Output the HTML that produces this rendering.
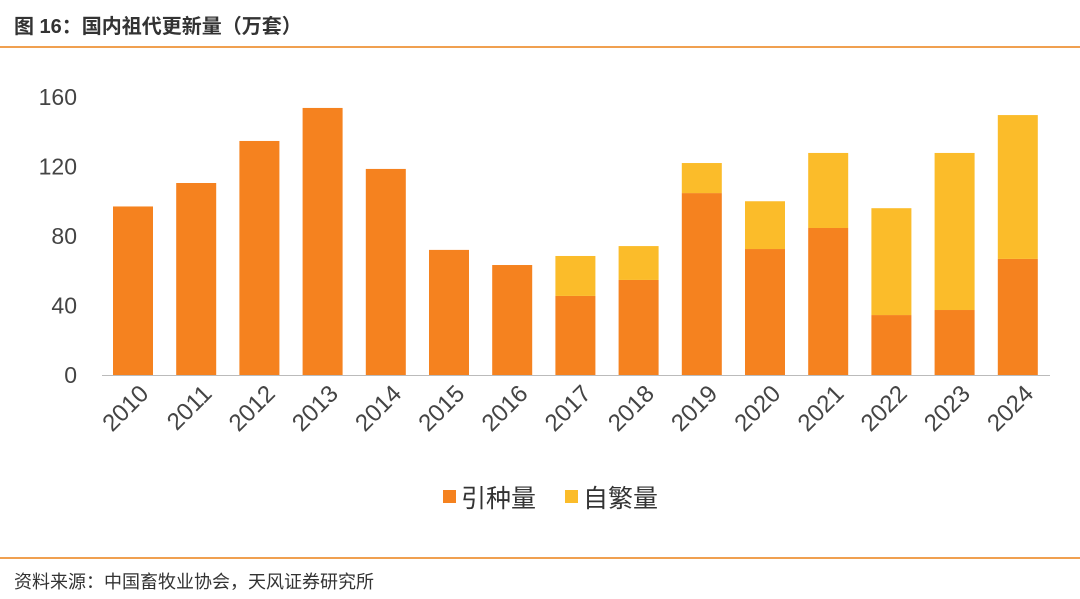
<!DOCTYPE html>
<html><head><meta charset="utf-8">
<style>
body{margin:0;width:1080px;height:599px;background:#fff;overflow:hidden;font-family:"Liberation Sans","Noto Sans CJK SC",sans-serif;}
#title{position:absolute;left:14px;top:10px;font-size:20px;font-weight:bold;color:#333;}
.rule{position:absolute;left:0;width:1080px;height:2px;background:#F0A050;}
#src{position:absolute;left:14px;top:568px;font-size:18px;color:#333;}
</style></head><body>
<div id="title">图 16：国内祖代更新量（万套）</div>
<div class="rule" style="top:46px"></div>
<svg id="chart" width="1080" height="599" style="position:absolute;left:0;top:0"></svg>
<div class="rule" style="top:557px;height:1.5px"></div>
<div id="src">资料来源：中国畜牧业协会，天风证券研究所</div>
<script>
const categories=["2010","2011","2012","2013","2014","2015","2016","2017","2018","2019","2020","2021","2022","2023","2024"];
const imported=[97,110.5,134.7,153.7,118.6,72,63.3,45.5,54.7,104.7,72.5,84.6,34.5,37.4,66.8];
const selfBred=[0,0,0,0,0,0,0,23,19.5,17.3,27.5,43.2,61.5,90.4,82.8];
const yTicks=[0,40,80,120,160];
const NS="http://www.w3.org/2000/svg";
const svg=document.getElementById('chart');
const y0=375,yTop=97,yMax=160;
const y=v=>y0-(v/yMax)*(y0-yTop);
const x=i=>133+i*63.2;
const bw=40;
function mk(t,a){const e=document.createElementNS(NS,t);for(const k in a)e.setAttribute(k,a[k]);svg.appendChild(e);return e;}
yTicks.forEach(v=>{const t=mk('text',{x:77,y:y(v)+8,'text-anchor':'end','font-size':23,fill:'#444'});t.textContent=v;

});
categories.forEach((c,i)=>{
const r1=mk('rect',{x:x(i)-bw/2,y:y(imported[i]),width:bw,height:y0-y(imported[i]),fill:'#F5821F'});


if(selfBred[i]>0){const r2=mk('rect',{x:x(i)-bw/2,y:y(imported[i]+selfBred[i]),width:bw,height:y(imported[i])-y(imported[i]+selfBred[i]),fill:'#FBBC2A'});

}
const lx=x(i)+17,ly=395;
const t=mk('text',{x:lx,y:ly,'text-anchor':'end','font-size':24,fill:'#444',transform:`rotate(-45 ${lx} ${ly})`});t.textContent=c;


});
const ax=mk('line',{x1:102,x2:1050,y1:y0+0.5,y2:y0+0.5,stroke:'#bbb','stroke-width':1});


[[443,'#F5821F','引种量','legend-imported'],[565,'#FBBC2A','自繁量','legend-selfbred']].forEach(l=>{
const g=document.createElementNS(NS,'g');svg.appendChild(g);


const r=document.createElementNS(NS,'rect');r.setAttribute('x',l[0]);r.setAttribute('y',490);r.setAttribute('width',13);r.setAttribute('height',13);r.setAttribute('fill',l[1]);g.appendChild(r);
const t=document.createElementNS(NS,'text');t.setAttribute('x',l[0]+18);t.setAttribute('y',507);t.setAttribute('font-size',25);t.setAttribute('fill','#333');t.textContent=l[2];g.appendChild(t);
});
</script>
</body></html>
